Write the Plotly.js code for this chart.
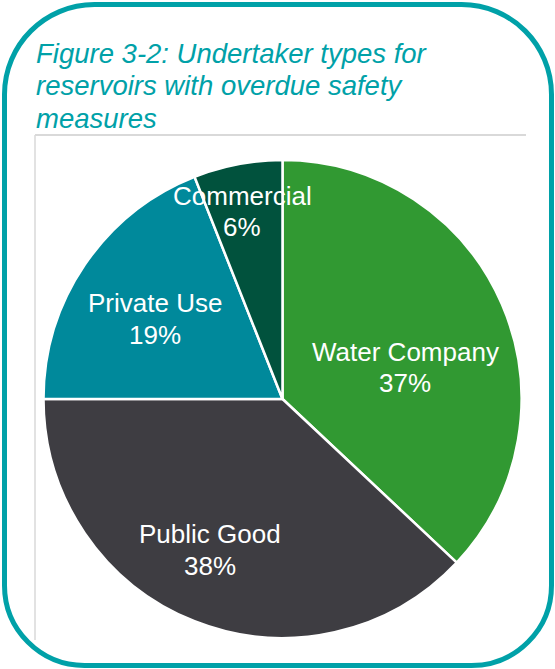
<!DOCTYPE html>
<html>
<head>
<meta charset="utf-8">
<script src="https://cdn.plot.ly/plotly-3.0.1.min.js"></script>
<style>html,body{margin:0;padding:0;background:#fff;}#chart{width:555px;height:669px;}</style>
</head>
<body>
<div id="chart"></div>
<script>
// ---- data ----
const categories = ["Water Company", "Public Good", "Private Use", "Commercial"];
const shares = [37, 38, 19, 6];
const sliceColors = ["#319932", "#3e3d42", "#00899b", "#01523d"];
const titleLines = ["Figure 3-2: Undertaker types for", "reservoirs with overdue safety", "measures"];
const pctLabels = ["37%", "38%", "19%", "6%"];

// ---- layout helpers ----
const W = 555, H = 669;
const px = x => x / W;
const py = y => 1 - y / H;
const P = (x, y) => px(x).toFixed(5) + "," + py(y).toFixed(5);

function roundRect(x0, y0, x1, y1, rt, rb) {
  const k = 0.5523;
  return "M" + P(x0 + rt, y0) +
    " L" + P(x1 - rt, y0) +
    " C" + P(x1 - rt + rt * k, y0) + " " + P(x1, y0 + rt - rt * k) + " " + P(x1, y0 + rt) +
    " L" + P(x1, y1 - rb) +
    " C" + P(x1, y1 - rb + rb * k) + " " + P(x1 - rb + rb * k, y1) + " " + P(x1 - rb, y1) +
    " L" + P(x0 + rb, y1) +
    " C" + P(x0 + rb - rb * k, y1) + " " + P(x0, y1 - rb + rb * k) + " " + P(x0, y1 - rb) +
    " L" + P(x0, y0 + rt) +
    " C" + P(x0, y0 + rt - rt * k) + " " + P(x0 + rt - rt * k, y0) + " " + P(x0 + rt, y0) + " Z";
}

const teal = "#00a1a8";
const labelFont = {family: "Liberation Sans, Arial, sans-serif", size: 26, color: "#ffffff"};

const trace = {
  type: "pie",
  labels: categories,
  values: shares,
  sort: false,
  direction: "clockwise",
  rotation: 0,
  marker: {colors: sliceColors, line: {color: "#ffffff", width: 2.5}},
  textinfo: "none",
  hoverinfo: "label+percent",
  domain: {x: [px(43), px(522)], y: [py(638), py(160)]},
  showlegend: false
};

// label positions (centre of each text line, pixels)
const labelPos = [[405, 352, 383], [210, 534, 566], [155, 303, 335], [242, 196, 227]];

const annotations = [];
titleLines.forEach((t, i) => {
  annotations.push({
    text: t, xref: "paper", yref: "paper", x: px(34), y: py([53, 86, 118][i]),
    xanchor: "left", yanchor: "middle", showarrow: false,
    font: {family: "Liberation Sans, Arial, sans-serif", size: 27.5, color: teal, style: "italic"}
  });
});
categories.forEach((c, i) => {
  const [x, y1, y2] = labelPos[i];
  annotations.push({text: c, xref: "paper", yref: "paper", x: px(x), y: py(y1),
    xanchor: "center", yanchor: "middle", showarrow: false, font: labelFont});
  annotations.push({text: pctLabels[i], xref: "paper", yref: "paper", x: px(x), y: py(y2),
    xanchor: "center", yanchor: "middle", showarrow: false, font: labelFont});
});

const shapes = [
  {type: "line", xref: "paper", yref: "paper", x0: px(35), x1: px(526), y0: py(135), y1: py(135),
   line: {color: "#d9d9d9", width: 2}, layer: "below"},
  {type: "line", xref: "paper", yref: "paper", x0: px(35), x1: px(35), y0: py(135), y1: py(640),
   line: {color: "#d9d9d9", width: 1.5}, layer: "below"},
  {type: "path", xref: "paper", yref: "paper", path: roundRect(4.5, 4.5, 551.5, 665.5, 90, 80),
   line: {color: teal, width: 5}, fillcolor: "rgba(0,0,0,0)", layer: "above"}
];

const layout = {
  width: W, height: H,
  margin: {l: 0, r: 0, t: 0, b: 0},
  paper_bgcolor: "#ffffff",
  plot_bgcolor: "#ffffff",
  showlegend: false,
  annotations: annotations,
  shapes: shapes
};

Plotly.newPlot("chart", [trace], layout, {displayModeBar: false, staticPlot: true});
</script>
</body>
</html>
